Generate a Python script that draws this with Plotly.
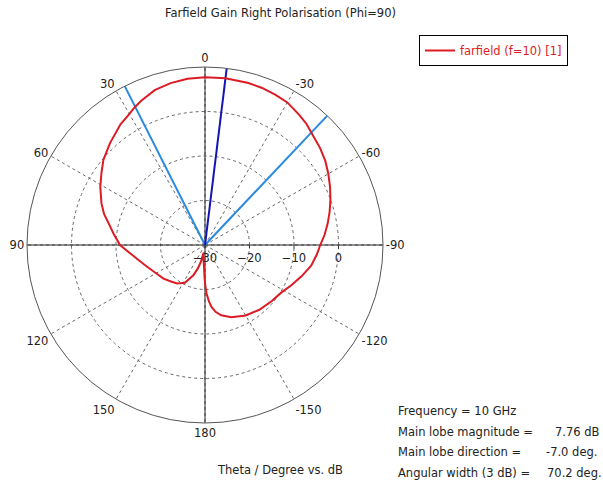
import plotly.graph_objects as go

# Farfield gain (dB) versus theta (deg), phi = 90 cut
theta_deg = [-180, -179, -178, -176, -174, -171, -167, -160, -150, -140, -130, -122,
             -115, -108, -101, -95, -90, -85, -80, -75, -70, -65, -60, -55, -50,
             -43.4, -40, -36, -30, -25, -20, -15, -7, 0, 6, 12, 18, 24, 27, 31, 35,
             43, 50, 55, 61, 68, 73, 77, 83, 90, 96, 102, 110, 120, 129, 137, 144,
             152, 159, 163, 166, 168, 170, 172, 174, 176, 178, 179, 180]
gain_db = [-21.5, -20.2, -19.0, -17.3, -16.0, -14.8, -13.8, -12.7, -11.7, -11.0, -10.4, -9.8,
           -8.6, -7.2, -5.7, -4.8, -4.1, -3.0, -2.0, -1.0, 0.0, 1.0, 2.0, 3.0, 3.8,
           4.76, 5.5, 6.1, 7.0, 7.3, 7.55, 7.7, 7.76, 7.7, 7.55, 7.2, 6.6, 5.4, 4.76, 3.8, 3.1,
           1.3, -0.2, -1.6, -3.1, -4.9, -6.3, -7.7, -9.3, -10.9, -13.0, -14.5, -16.0, -17.3, -18.0,
           -18.8, -19.3, -20.4, -22.7, -24.5, -26.0, -27.5, -28.3, -27.5, -26.8, -26.0, -24.5,
           -23.0, -21.5]

# Main lobe results
frequency_ghz = 10
main_lobe_db = 7.76
main_lobe_dir = -7.0
beam_edges = [26.8, -43.4]          # 3 dB edges of the main lobe
angular_width = 70.2

r_min, r_max = -30, 10
radial_ticks = [-30, -20, -10, 0]
angle_ticks = [0, 30, 60, 90, 120, 150, 180, 210, 240, 270, 300, 330]
angle_labels = ["0", "30", "60", "90", "120", "150", "180", "-150", "-120", "-90", "-60", "-30"]

FONT = "DejaVu Sans"
FS = 11.5
fig = go.Figure()

# solid axis lines through the centre
for a in (0, 90):
    fig.add_trace(go.Scatterpolar(r=[r_max, r_min, r_max], theta=[a, a, a + 180], mode="lines",
                                  line=dict(color="#222222", width=1), showlegend=False,
                                  hoverinfo="skip"))

# main lobe direction and 3 dB beam edges
for a in beam_edges:
    fig.add_trace(go.Scatterpolar(r=[r_min, r_max], theta=[a, a], mode="lines",
                                  line=dict(color="#2a8ae0", width=2), showlegend=False,
                                  hoverinfo="skip"))
fig.add_trace(go.Scatterpolar(r=[r_min, r_max], theta=[main_lobe_dir, main_lobe_dir], mode="lines",
                              line=dict(color="#1414b4", width=2), showlegend=False,
                              hoverinfo="skip"))

# gain pattern
fig.add_trace(go.Scatterpolar(r=gain_db, theta=theta_deg, mode="lines",
                              line=dict(color="#dc1c24", width=2),
                              name="farfield (f=10) [1]"))

fig.update_layout(
    width=603, height=482,
    margin=dict(l=0, r=0, t=0, b=0),
    paper_bgcolor="white",
    font=dict(family=FONT, size=FS, color="#222222"),
    polar=dict(
        domain=dict(x=[27 / 603, 383 / 603], y=[59 / 482, 415 / 482]),
        bgcolor="white",
        angularaxis=dict(rotation=90, direction="counterclockwise",
                         tickvals=angle_ticks, ticktext=angle_labels, ticks="",
                         showline=True, linecolor="#555555", linewidth=1,
                         showgrid=True, gridcolor="#666666", gridwidth=1, griddash="3px,3px",
                         tickfont=dict(family=FONT, size=FS, color="#222222")),
        radialaxis=dict(range=[r_min, r_max], tickvals=radial_ticks, angle=0,
                        side="clockwise", showline=False, ticks="outside", ticklen=3,
                        tickcolor="#333333",
                        showgrid=True, gridcolor="#666666", gridwidth=1, griddash="3px,3px",
                        tickfont=dict(family=FONT, size=FS, color="#222222")),
    ),
    legend=dict(x=419 / 603, y=1 - 35 / 482, xanchor="left", yanchor="top",
                bordercolor="#000000", borderwidth=1, bgcolor="white",
                font=dict(family=FONT, size=FS, color="#dc1c24"), itemwidth=30),
)

def note(text, x, y, anchor="left"):
    fig.add_annotation(text=text, x=x / 603, y=1 - y / 482, xref="paper", yref="paper",
                       xanchor=anchor, yanchor="middle", showarrow=False,
                       font=dict(family=FONT, size=FS, color="#222222"))

note("Farfield Gain Right Polarisation (Phi=90)", 280, 13, "center")
note("Theta / Degree vs. dB", 280, 470, "center")
note(f"Frequency = {frequency_ghz} GHz", 396, 411)
note("Main lobe magnitude =", 396, 432)
note(f"{main_lobe_db:.2f} dB", 602, 432, "right")
note("Main lobe direction =", 396, 452)
note(f"{main_lobe_dir:.1f} deg.", 544, 452)
note("Angular width (3 dB) =", 396, 473)
note(f"{angular_width:.1f} deg.", 545, 473)

fig.write_html("out.html")
